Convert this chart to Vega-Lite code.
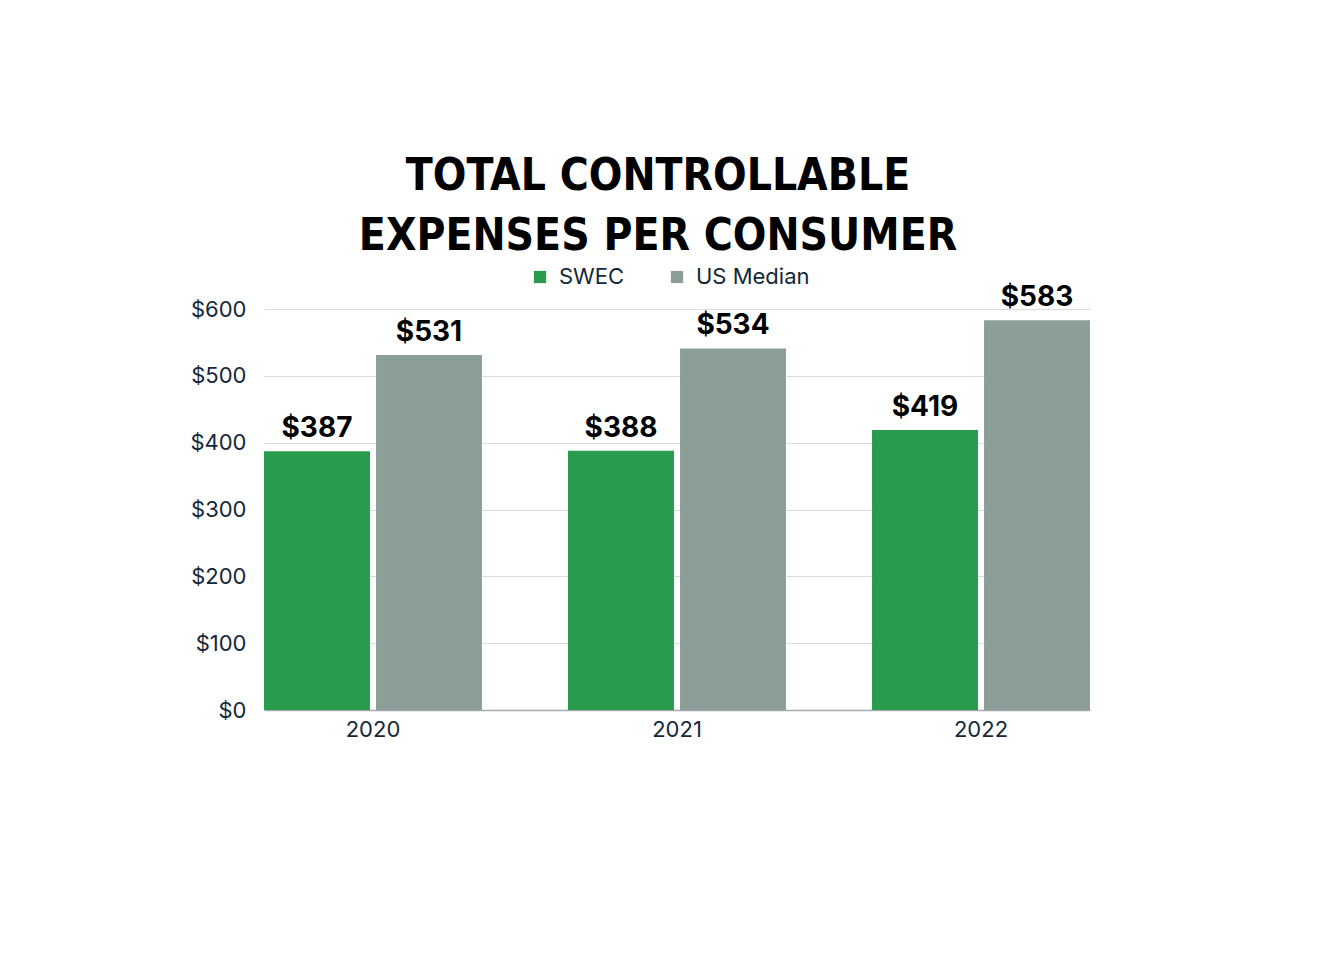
{
  "$schema": "https://vega.github.io/schema/vega-lite/v6.json",
  "autosize": {"type": "none"},
  "padding": {"left": 264, "top": 309, "right": 240, "bottom": 252},
  "width": 826,
  "height": 401,
  "background": "white",
  "config": {"view": {"stroke": null}},
  "title": {
    "text": ["TOTAL CONTROLLABLE", "EXPENSES PER CONSUMER"],
    "font": "DejaVu Sans Condensed, sans-serif",
    "fontWeight": "bold",
    "fontSize": 44,
    "lineHeight": 60,
    "color": "black",
    "anchor": "middle",
    "dx": -19,
    "offset": 7
  },
  "data": {
    "values": [
      {"year": "2020", "series": "SWEC", "value": 387, "label": "$387"},
      {"year": "2020", "series": "US Median", "value": 531, "label": "$531"},
      {"year": "2021", "series": "SWEC", "value": 388, "label": "$388"},
      {"year": "2021", "series": "US Median", "value": 541, "label": "$534"},
      {"year": "2022", "series": "SWEC", "value": 419, "label": "$419"},
      {"year": "2022", "series": "US Median", "value": 583, "label": "$583"}
    ]
  },
  "encoding": {
    "x": {
      "field": "year",
      "type": "nominal",
      "title": null,
      "scale": {"paddingInner": 0.283, "paddingOuter": 0},
      "axis": {
        "labelAngle": 0,
        "labelFont": "Inter",
        "labelFontSize": 22,
        "labelColor": "#14283a",
        "labelPadding": 9,
        "ticks": false,
        "domainColor": "#a3abb0",
        "domainWidth": 1.5,
        "grid": false
      }
    },
    "xOffset": {
      "field": "series",
      "type": "nominal",
      "scale": {"paddingInner": 0.054, "paddingOuter": 0}
    },
    "y": {
      "field": "value",
      "type": "quantitative",
      "title": null,
      "scale": {"domain": [0, 600]},
      "axis": {
        "values": [0, 100, 200, 300, 400, 500, 600],
        "format": "$,d",
        "labelFont": "Inter",
        "labelFontSize": 22,
        "labelColor": "#14283a",
        "labelPadding": 18,
        "ticks": false,
        "domain": false,
        "gridColor": "#d9dcde",
        "gridWidth": 1
      }
    }
  },
  "layer": [
    {
      "mark": {"type": "bar"},
      "encoding": {
        "color": {
          "field": "series",
          "type": "nominal",
          "scale": {"domain": ["SWEC", "US Median"], "range": ["#289b4c", "#8b9e97"]},
          "legend": {
            "title": null,
            "orient": "none",
            "direction": "horizontal",
            "legendX": 265,
            "legendY": -43,
            "symbolType": "square",
            "symbolSize": 150,
            "symbolOpacity": 1,
            "labelFont": "Inter",
            "labelFontSize": 22,
            "labelColor": "#14283a",
            "labelOffset": 8,
            "columnPadding": 41
          }
        }
      }
    },
    {
      "mark": {
        "type": "text",
        "font": "Inter",
        "fontWeight": "bold",
        "fontSize": 28,
        "color": "black",
        "baseline": "alphabetic",
        "dy": -14
      },
      "encoding": {"text": {"field": "label"}}
    }
  ]
}
